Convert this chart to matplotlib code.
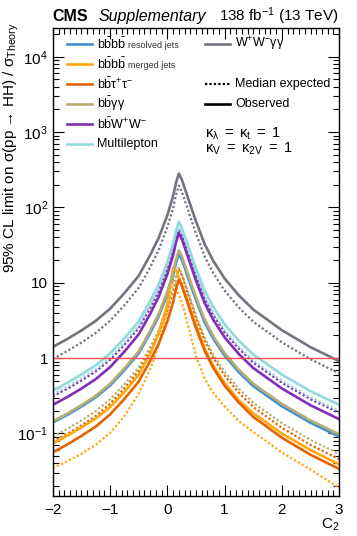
import numpy as np
import matplotlib
matplotlib.use('Agg')
import matplotlib.pyplot as plt
from matplotlib.ticker import FixedLocator, FixedFormatter, MultipleLocator, LogLocator, NullFormatter

plt.rcParams['font.family'] = ['Liberation Sans', 'DejaVu Sans']
plt.rcParams['mathtext.fontset'] = 'custom'
plt.rcParams['mathtext.rm'] = 'Liberation Sans'
plt.rcParams['mathtext.it'] = 'Liberation Sans:italic'
plt.rcParams['mathtext.bf'] = 'Liberation Sans:bold'

# c2 scan points
c2 = [-2, -1.75, -1.5, -1.25, -1, -0.75, -0.5, -0.3, -0.15, 0, 0.1, 0.15, 0.2,
      0.25, 0.3, 0.4, 0.5, 0.65, 0.8, 1, 1.25, 1.5, 2, 2.5, 3]

# limits on sigma / sigma_theory
bbbb_res_obs = [0.140, 0.176, 0.228, 0.302, 0.434, 0.692, 1.16, 2.16, 3.62, 7.05, 12.3, 18.2, 24.2,
                20.5, 16.0, 9.65, 5.88, 3.0, 1.82, 1.08, 0.649, 0.426, 0.23, 0.139, 0.091]
bbbb_res_exp = [0.146, 0.183, 0.237, 0.314, 0.451, 0.72, 1.21, 2.25, 3.76, 7.33, 12.8, 18.9, 25.2,
                21.3, 16.6, 10.0, 6.12, 3.12, 1.89, 1.12, 0.675, 0.443, 0.239, 0.145, 0.0946]
bbbb_mrg_obs = [0.0741, 0.0933, 0.120, 0.158, 0.224, 0.355, 0.603, 1.15, 2.14, 5.25, 15.8, 14.8, 11.7,
                9.55, 7.59, 4.57, 2.75, 1.35, 0.794, 0.468, 0.275, 0.186, 0.10, 0.0603, 0.0389]
bbbb_mrg_exp = [0.0347, 0.0427, 0.0537, 0.0708, 0.102, 0.170, 0.339, 0.708, 1.51, 4.17, 11.0, 9.55, 6.92,
                5.50, 4.17, 2.09, 1.07, 0.537, 0.347, 0.229, 0.145, 0.105, 0.0562, 0.0331, 0.0191]
bbtt_obs = [0.0562, 0.0713, 0.0929, 0.124, 0.179, 0.288, 0.489, 0.92, 1.56, 3.09, 5.52, 8.2, 11.0,
            9.23, 7.11, 4.23, 2.51, 1.26, 0.746, 0.431, 0.256, 0.166, 0.0879, 0.0522, 0.0339]
bbtt_exp = [0.0776, 0.0984, 0.128, 0.171, 0.248, 0.398, 0.675, 1.27, 2.15, 4.27, 7.62, 11.3, 15.1,
            12.7, 9.79, 5.81, 3.44, 1.72, 1.02, 0.587, 0.348, 0.225, 0.119, 0.0706, 0.0457]
bbgg_obs = [0.145, 0.183, 0.238, 0.316, 0.456, 0.731, 1.23, 2.31, 3.89, 7.67, 13.6, 20.2, 26.9,
            22.8, 17.7, 10.6, 6.43, 3.27, 1.97, 1.16, 0.698, 0.458, 0.247, 0.149, 0.0977]
bbgg_exp = [0.0912, 0.115, 0.149, 0.198, 0.284, 0.451, 0.755, 1.40, 2.35, 4.59, 8.11, 11.9, 15.8,
            13.4, 10.4, 6.19, 3.72, 1.88, 1.12, 0.656, 0.393, 0.256, 0.137, 0.0822, 0.0537]
bbww_obs = [0.24, 0.304, 0.395, 0.527, 0.762, 1.22, 2.07, 3.87, 6.55, 13.0, 23.1, 34.3, 45.7,
            38.5, 29.9, 17.9, 10.7, 5.42, 3.24, 1.89, 1.13, 0.74, 0.396, 0.237, 0.155]
bbww_exp = [0.311, 0.391, 0.505, 0.667, 0.949, 1.50, 2.51, 4.62, 7.68, 14.9, 26.0, 38.2, 50.5,
            42.7, 33.2, 20.0, 12.1, 6.19, 3.74, 2.20, 1.33, 0.873, 0.472, 0.285, 0.188]
ml_obs = [0.372, 0.469, 0.607, 0.805, 1.16, 1.84, 3.08, 5.71, 9.57, 18.7, 33.0, 48.6, 64.6,
          54.6, 42.5, 25.6, 15.5, 7.93, 4.79, 2.81, 1.70, 1.12, 0.604, 0.365, 0.24]
ml_exp = [0.331, 0.416, 0.537, 0.71, 1.01, 1.60, 2.67, 4.91, 8.17, 15.8, 27.7, 40.6, 53.7,
          45.4, 35.3, 21.3, 12.9, 6.59, 3.98, 2.34, 1.41, 0.929, 0.502, 0.303, 0.20]
wwgg_obs = [1.41, 1.79, 2.33, 3.13, 4.53, 7.29, 12.4, 23.4, 39.7, 79.1, 142, 210, 282,
            237, 183, 109, 65.3, 32.8, 19.6, 11.4, 6.78, 4.42, 2.35, 1.40, 0.912]
wwgg_exp = [0.973, 1.24, 1.61, 2.16, 3.13, 5.03, 8.56, 16.1, 27.4, 54.6, 98, 145, 195,
            164, 126, 75.2, 45.1, 22.6, 13.5, 7.87, 4.68, 3.05, 1.62, 0.966, 0.629]

labels = [r'$\mathrm{b\bar{b}b\bar{b}}$', r'$\mathrm{b\bar{b}b\bar{b}}$', r'$\mathrm{b\bar{b}\tau^{+}\tau^{-}}$',
          r'$\mathrm{b\bar{b}\gamma\gamma}$', r'$\mathrm{b\bar{b}W^{+}W^{-}}$', 'Multilepton']
sublabels = ['resolved jets', 'merged jets', '', '', '', '']
colors = ['#3f90da', '#ffa90e', '#e76300', '#b9ac70', '#832db6', '#92dadd']
obs_list = [bbbb_res_obs, bbbb_mrg_obs, bbtt_obs, bbgg_obs, bbww_obs, ml_obs]
exp_list = [bbbb_res_exp, bbbb_mrg_exp, bbtt_exp, bbgg_exp, bbww_exp, ml_exp]
gray = '#717581'

fig = plt.figure(figsize=(3.57, 5.36), dpi=100)
ax = fig.add_axes([0.148, 0.0746, 0.802, 0.873])

dot = (0, (1, 1))
ax.plot(c2, wwgg_exp, color=gray, lw=1.6, ls=dot)
for col, e in zip(colors, exp_list):
    ax.plot(c2, e, color=col, lw=1.6, ls=dot)
ax.plot(c2, wwgg_obs, color=gray, lw=1.9)
for col, o in zip(colors, obs_list):
    ax.plot(c2, o, color=col, lw=1.9)

ax.axhline(1, color='#ff5050', lw=1.0)

ax.set_yscale('log')
ax.set_xlim(-2, 3)
ax.set_ylim(0.0148, 2.4e4)

ax.xaxis.set_major_locator(FixedLocator([-2, -1, 0, 1, 2, 3]))
ax.xaxis.set_major_formatter(FixedFormatter(['\u22122', '\u22121', '0', '1', '2', '3']))
ax.xaxis.set_minor_locator(MultipleLocator(0.1))
ax.yaxis.set_major_locator(FixedLocator([0.1, 1, 10, 100, 1000, 10000]))
ax.yaxis.set_major_formatter(FixedFormatter([r'$10^{-1}$', '1', '10', r'$10^{2}$', r'$10^{3}$', r'$10^{4}$']))
ax.yaxis.set_minor_locator(LogLocator(base=10, subs=np.arange(2, 10)))
ax.yaxis.set_minor_formatter(NullFormatter())
ax.tick_params(which='both', direction='in', top=True, right=True, labelsize=11, width=0.8)
ax.tick_params(which='major', length=8)
ax.tick_params(which='minor', length=4)
ax.tick_params(axis='x', pad=5)
for s in ax.spines.values():
    s.set_linewidth(1.0)

ax.set_xlabel(r'$\mathrm{C_{2}}$', fontsize=11, loc='right')
ax.xaxis.set_label_coords(1.0, -0.045)
ax.set_ylabel('95% CL limit on \u03c3(pp \u2192 HH) / \u03c3$_{\\mathrm{Theory}}$', fontsize=11, loc='top')
ax.yaxis.set_label_coords(-0.112, 1.012)

# header
fig.text(0.148, 0.960, 'CMS', fontsize=11.5, fontweight='bold', va='baseline')
fig.text(0.275, 0.960, 'Supplementary', fontsize=11.5, style='italic', va='baseline')
fig.text(0.95, 0.960, r'138 fb$^{-1}$ (13 TeV)', fontsize=11, ha='right', va='baseline')

# legend, drawn by hand
rows = [0.966, 0.923, 0.880, 0.838, 0.795, 0.752]
for y, col, lab, sub in zip(rows, colors, labels, sublabels):
    ax.plot([0.049, 0.136], [y, y], color=col, lw=1.9, transform=ax.transAxes)
    ax.text(0.154, y, lab, fontsize=9, va='center', transform=ax.transAxes)
    if sub:
        ax.text(0.262, y - 0.003, sub, fontsize=6.5, va='center', color='#333333', transform=ax.transAxes)
ax.plot([0.531, 0.619], [0.966, 0.966], color=gray, lw=1.9, transform=ax.transAxes)
ax.text(0.636, 0.966, r'$\mathrm{W^{+}W^{-}\gamma\gamma}$', fontsize=9, va='center', transform=ax.transAxes)
ax.plot([0.531, 0.619], [0.880, 0.880], color='black', lw=1.6, ls=dot, transform=ax.transAxes)
ax.text(0.636, 0.880, 'Median expected', fontsize=9, va='center', transform=ax.transAxes)
ax.plot([0.531, 0.619], [0.838, 0.838], color='black', lw=1.9, transform=ax.transAxes)
ax.text(0.636, 0.838, 'Observed', fontsize=9, va='center', transform=ax.transAxes)
ax.text(0.531, 0.775, r'$\mathrm{\kappa_{\lambda}\ =\ \kappa_{t}\ =\ 1}$', fontsize=10.5, va='center', transform=ax.transAxes)
ax.text(0.531, 0.742, r'$\mathrm{\kappa_{V}\ =\ \kappa_{2V}\ =\ 1}$', fontsize=10.5, va='center', transform=ax.transAxes)

fig.savefig('out.png', dpi=100)
